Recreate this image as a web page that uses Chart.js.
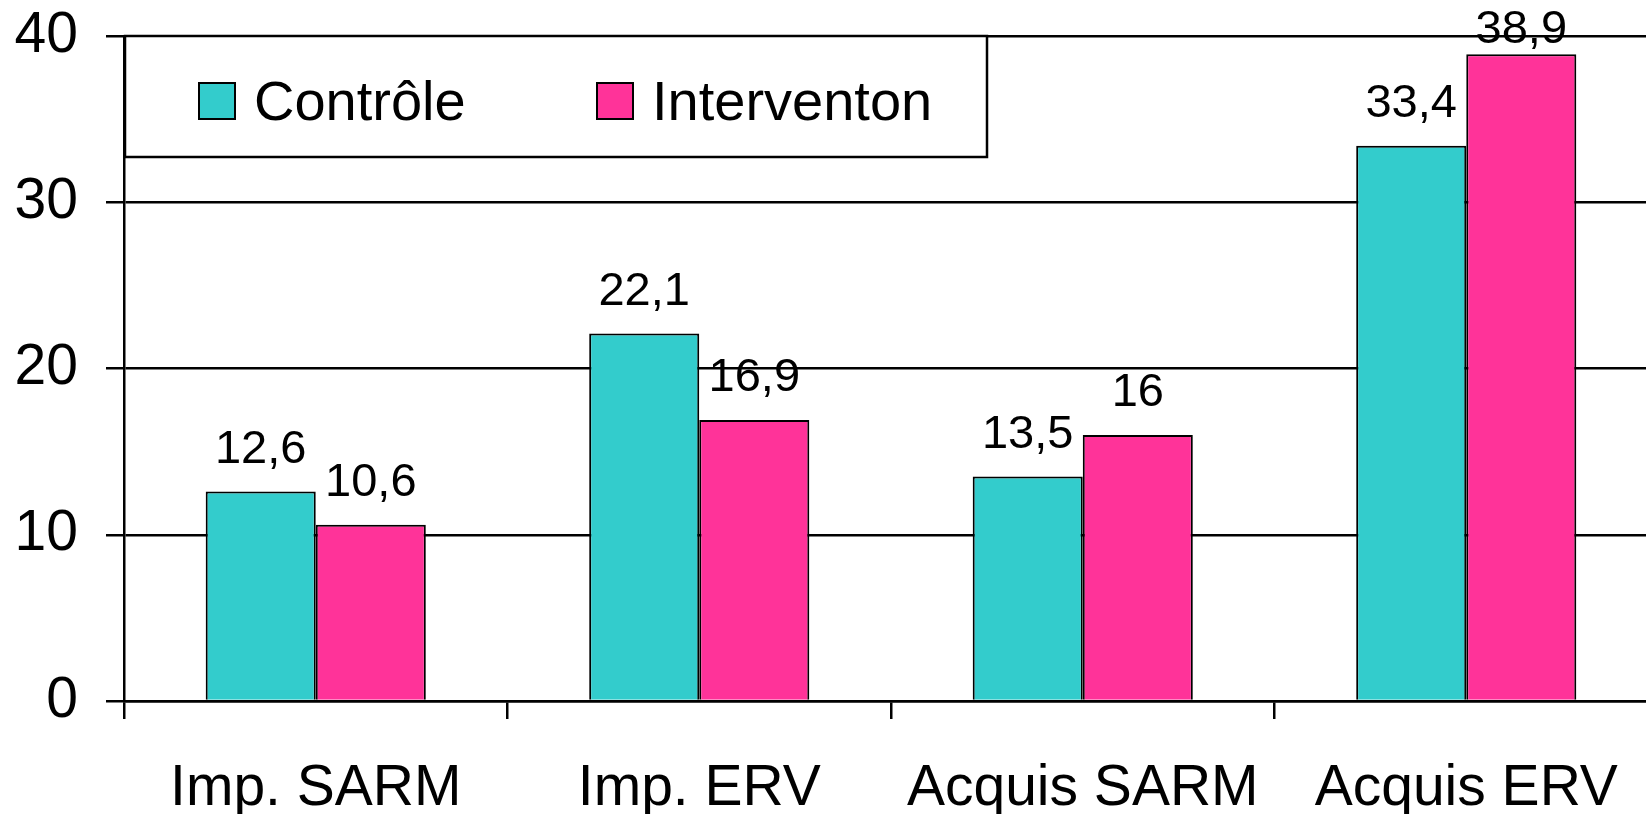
<!DOCTYPE html>
<html>
<head>
<meta charset="utf-8">
<script src="https://cdn.jsdelivr.net/npm/chart.js@4/dist/chart.umd.min.js"></script>
<style>
  html, body { margin: 0; padding: 0; background: #fff; overflow: hidden; }
  #wrap { width: 1658px; height: 814px; }
</style>
</head>
<body>
<div id="wrap"><canvas id="c" width="1658" height="814"></canvas></div>
<script>
// Categories and series
const categories = ['Imp. SARM', 'Imp. ERV', 'Acquis SARM', 'Acquis ERV'];
const controleValues = [12.6, 22.1, 13.5, 33.4];
const interventionValues = [10.6, 16.9, 16, 38.9];
const seriesNames = ['Contrôle', 'Interventon'];
const yTicks = [0, 10, 20, 30, 40];

const FONT = '"Liberation Sans", Arial, sans-serif';

// Value labels above each bar, decimal comma
const valueLabels = {
  id: 'valueLabels',
  afterDatasetsDraw(chart) {
    const ctx = chart.ctx;
    ctx.save();
    ctx.font = '47px ' + FONT;
    ctx.fillStyle = '#000';
    ctx.textAlign = 'center';
    ctx.textBaseline = 'alphabetic';
    chart.data.datasets.forEach((ds, di) => {
      chart.getDatasetMeta(di).data.forEach((bar, i) => {
        const txt = String(ds.data[i]).replace('.', ',');
        const y = Math.max(bar.y - 29, chart.chartArea.top + 7);
        ctx.fillText(txt, bar.x, y);
      });
    });
    ctx.restore();
  }
};

// Framed legend in the upper-left corner of the plot
const boxLegend = {
  id: 'boxLegend',
  afterDraw(chart) {
    const ctx = chart.ctx;
    const a = chart.chartArea;
    const x0 = a.left, y0 = a.top, w = 863, h = 121;
    ctx.save();
    ctx.fillStyle = '#fff';
    ctx.fillRect(x0, y0, w, h);
    ctx.strokeStyle = '#000';
    ctx.lineWidth = 2.5;
    ctx.strokeRect(x0 + 1, y0, w - 1, h);
    ctx.font = '56px ' + FONT;
    ctx.textBaseline = 'alphabetic';
    ctx.textAlign = 'left';
    const itemX = [x0 + 75, x0 + 473];
    chart.data.datasets.forEach((ds, i) => {
      const sx = itemX[i], sy = y0 + 47;
      ctx.fillStyle = ds.backgroundColor;
      ctx.fillRect(sx, sy, 36, 36);
      ctx.lineWidth = 2;
      ctx.strokeStyle = '#000';
      ctx.strokeRect(sx, sy, 36, 36);
      ctx.fillStyle = '#000';
      ctx.fillText(ds.label, sx + 55, y0 + 84);
    });
    ctx.restore();
  }
};

new Chart(document.getElementById('c'), {
  type: 'bar',
  data: {
    labels: categories,
    datasets: [
      { label: seriesNames[0], data: controleValues, backgroundColor: '#33CCCC', borderColor: '#000', borderWidth: 2 },
      { label: seriesNames[1], data: interventionValues, backgroundColor: '#FF3399', borderColor: '#000', borderWidth: 2 }
    ]
  },
  options: {
    responsive: false,
    animation: false,
    events: [],
    layout: { padding: { top: 36, right: 0, left: 0, bottom: 0 } },
    plugins: { legend: { display: false }, tooltip: { enabled: false } },
    datasets: { bar: { categoryPercentage: 0.574, barPercentage: 1 } },
    scales: {
      x: {
        grid: { drawOnChartArea: false, drawTicks: true, tickLength: 18, offset: true, color: '#000', lineWidth: 2.5 },
        border: { color: '#000', width: 2.5 },
        ticks: { color: '#000', font: { family: FONT, size: 57 }, padding: 36, maxRotation: 0 },
        afterFit(s) { s.height = 113; s.paddingLeft = 0; s.paddingRight = 0; }
      },
      y: {
        min: 0, max: 40,
        afterBuildTicks(s) { s.ticks = yTicks.map(v => ({ value: v })); },
        grid: { color: '#000', lineWidth: 2.5, tickLength: 18 },
        border: { color: '#000', width: 2.5 },
        ticks: { color: '#000', font: { family: FONT, size: 57 }, padding: 28 },
        afterFit(s) { s.width = 124; s.paddingTop = 0; s.paddingBottom = 0; }
      }
    }
  },
  plugins: [valueLabels, boxLegend]
});
</script>
</body>
</html>
